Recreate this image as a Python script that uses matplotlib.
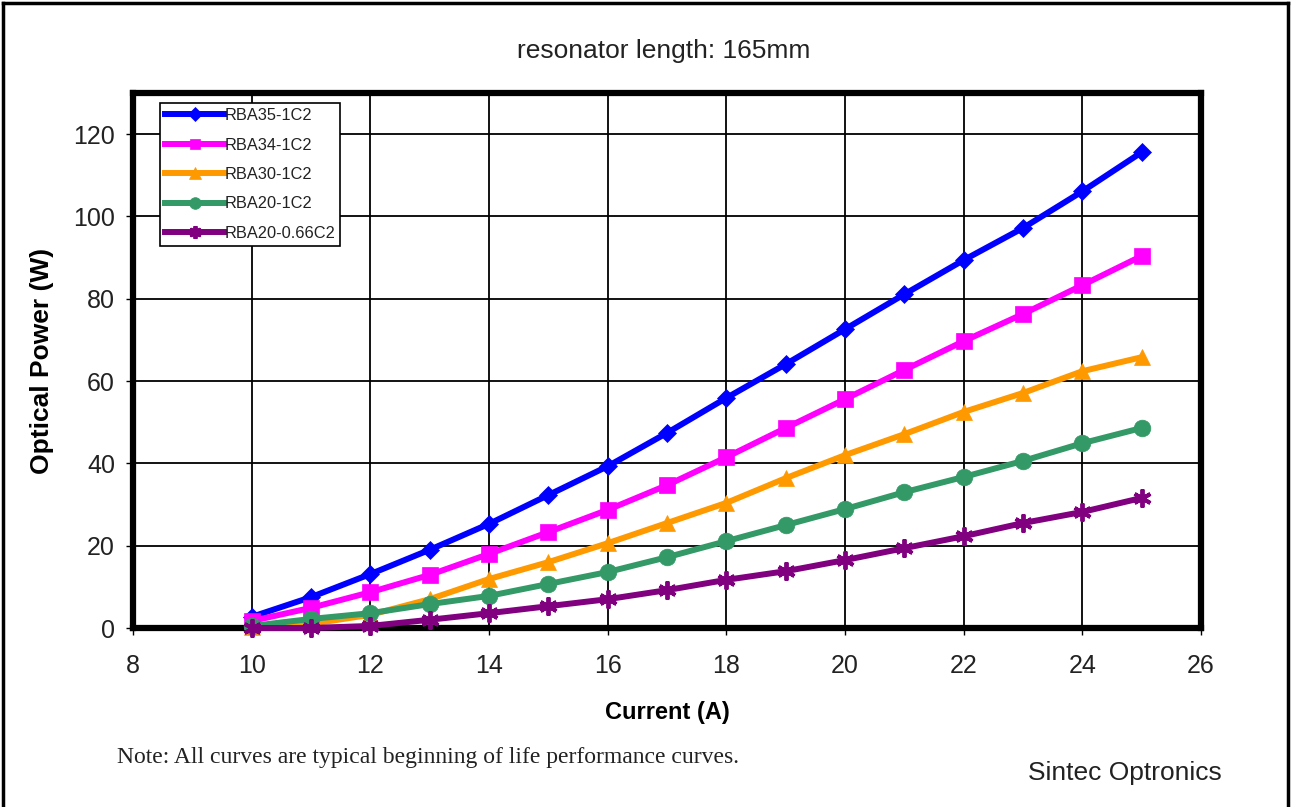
import matplotlib
matplotlib.use("Agg")
import matplotlib.pyplot as plt
from matplotlib.lines import Line2D

current = [10, 11, 12, 13, 14, 15, 16, 17, 18, 19, 20, 21, 22, 23, 24, 25]
rba35_1c2 = [2.7, 7.5, 13.1, 19.0, 25.3, 32.3, 39.3, 47.4, 55.9, 64.1, 72.6, 81.1, 89.4, 97.2, 106.1, 115.6]
rba34_1c2 = [1.7, 4.9, 8.7, 12.9, 18.0, 23.3, 28.7, 34.7, 41.5, 48.6, 55.6, 62.7, 69.7, 76.3, 83.3, 90.4]
rba30_1c2 = [0.2, 1.0, 3.2, 7.0, 11.9, 16.0, 20.6, 25.5, 30.4, 36.4, 42.0, 47.1, 52.5, 57.1, 62.4, 65.8]
rba20_1c2 = [0.5, 2.2, 3.6, 5.8, 7.8, 10.7, 13.6, 17.2, 21.1, 25.0, 28.9, 33.0, 36.7, 40.6, 44.9, 48.6]
rba20_066c2 = [0.0, 0.0, 0.5, 2.0, 3.6, 5.3, 7.0, 9.2, 11.7, 13.8, 16.5, 19.4, 22.3, 25.5, 28.2, 31.6]
labels = ["RBA35-1C2", "RBA34-1C2", "RBA30-1C2", "RBA20-1C2", "RBA20-0.66C2"]
x_ticks = [8, 10, 12, 14, 16, 18, 20, 22, 24, 26]
y_ticks = [0, 20, 40, 60, 80, 100, 120]

series = [rba35_1c2, rba34_1c2, rba30_1c2, rba20_1c2, rba20_066c2]
colors = ["#0000ff", "#ff00ff", "#ff9900", "#339966", "#800080"]
markers = ["D", "s", "^", "o", (6, 2, 0)]
msizes = [9.5, 11, 11.5, 12, 13]

plt.rcParams['font.family'] = ['Liberation Sans', 'DejaVu Sans']

fig = plt.figure(figsize=(12.91, 8.07), dpi=100)
ax = fig.add_axes([133/1291, 1-628/807, (1201-133)/1291, (628-93)/807])

for ys, c, m, ms, lab in zip(series, colors, markers, msizes, labels):
    mew = 2.8 if m == (6, 2, 0) else 0.5
    ax.plot(current, ys, color=c, lw=4.3, marker=m, ms=ms, mfc=c, mec=c, mew=mew,
            label=lab, clip_on=False, zorder=3)

ax.set_xlim(8, 26)
ax.set_ylim(0, 130)
ax.set_xticks(x_ticks)
ax.set_yticks(y_ticks)
ax.grid(True, color="black", lw=1.3)
ax.set_axisbelow(True)
for s in ax.spines.values():
    s.set_linewidth(4.5)
    s.set_color("black")
ax.tick_params(axis="both", labelsize=18, length=5, width=1, direction="out", pad=8, colors="black")
ax.tick_params(axis="x", pad=14)
for t in ax.get_xticklabels() + ax.get_yticklabels():
    t.set_color("#222222")

ax.set_xlabel("Current (A)", fontsize=17, fontweight="bold", labelpad=16)
ax.set_ylabel("Optical Power (W)", fontsize=19, fontweight="bold", labelpad=14)

leg = ax.legend(loc="upper left", bbox_to_anchor=(0.021, 0.99), fontsize=11.8,
                frameon=True, fancybox=False, edgecolor="black", framealpha=1,
                handlelength=3.6, handletextpad=0.0, borderpad=0.3, labelspacing=0.88,
                borderaxespad=0.3, markerscale=0.7)
leg.get_frame().set_linewidth(1.2)
for t in leg.get_texts():
    t.set_color("#222222")

fig.text(0.514, 1-51/807, "resonator length: 165mm", ha="center", va="center", fontsize=19, color="#222222")
fig.text(117/1291, 1-757/807, "Note: All curves are typical beginning of life performance curves.",
         ha="left", va="center", fontsize=17, family=["Liberation Serif", "DejaVu Serif"], color="#222222")
fig.text(1222/1291, 1-773/807, "Sintec Optronics", ha="right", va="center", fontsize=19, color="#222222")

# figure frame (left, top, right)
fig.add_artist(Line2D([3/1291, 3/1291], [0, 1-3/807], transform=fig.transFigure, color="black", lw=2.5))
fig.add_artist(Line2D([3/1291, 1288/1291], [1-3/807, 1-3/807], transform=fig.transFigure, color="black", lw=2.5))
fig.add_artist(Line2D([1288/1291, 1288/1291], [0, 1-3/807], transform=fig.transFigure, color="black", lw=2.5))

fig.savefig("out.png", dpi=100, facecolor="white")
